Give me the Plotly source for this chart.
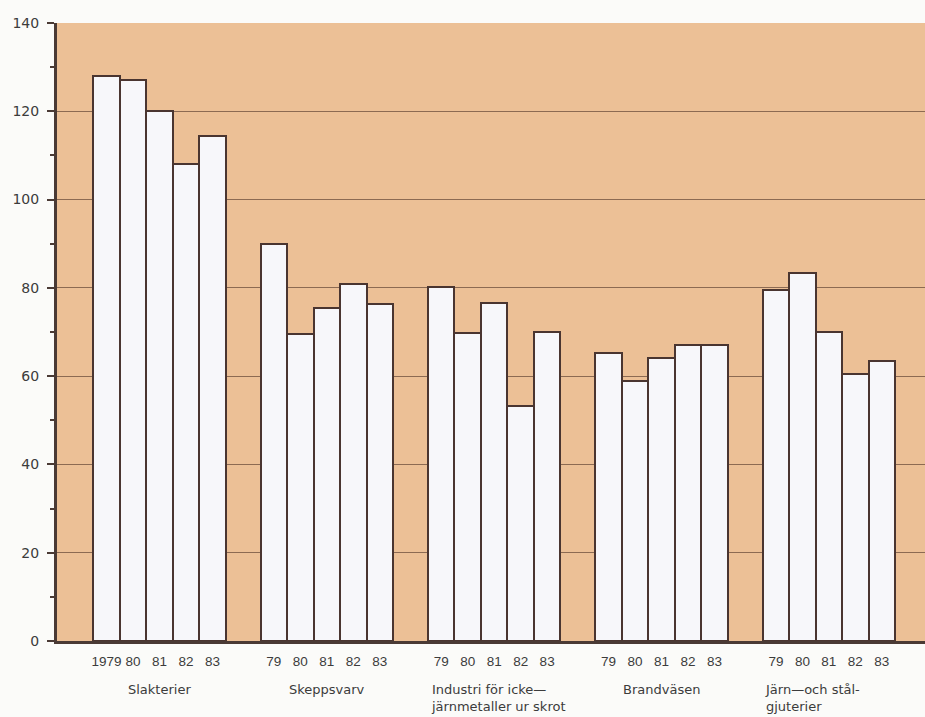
import plotly.graph_objects as go

groups = ["Slakterier", "Skeppsvarv", "Industri för icke—<br>järnmetaller ur skrot",
          "Brandväsen", "Järn—och stål-<br>gjuterier"]
years = ["79", "80", "81", "82", "83"]
first_year_label = "1979"
values = [
    [128, 127, 120, 108, 114.5],
    [90, 69.5, 75.5, 80.8, 76.3],
    [80.2, 69.7, 76.6, 53.3, 70.1],
    [65.3, 58.8, 64.0, 67.0, 67.0],
    [79.5, 83.4, 70.0, 60.5, 63.4],
]
y_ticks = [0, 20, 40, 60, 80, 100, 120, 140]

group_step = 6.32
xs, ys, ticktext = [], [], []
for g, vals in enumerate(values):
    for i, v in enumerate(vals):
        xs.append(g * group_step + i)
        ys.append(v)
        ticktext.append(first_year_label if (g == 0 and i == 0) else years[i])

fig = go.Figure()
fig.add_trace(go.Bar(
    x=xs, y=ys, width=1,
    marker=dict(color="#F7F7FA", line=dict(color="#4A3530", width=2)),
    hoverinfo="skip",
))

text_color = "#3C3C3C"
ytick_font = dict(family="DejaVu Sans, sans-serif", size=14, color=text_color)
xtick_font = dict(family="Liberation Sans, Arial, sans-serif", size=13.5, color=text_color)
label_font = dict(family="DejaVu Sans, sans-serif", size=13, color=text_color)

for g, name in enumerate(groups):
    left = g * group_step - 0.5
    center = g * group_step + 2
    multi = "<br>" in name
    fig.add_annotation(
        x=left + 0.06 if multi else center, xref="x",
        y=0, yref="paper", yanchor="top", yshift=-40,
        xanchor="left" if multi else "center", align="left",
        text=name, showarrow=False, font=label_font, borderpad=0,
    )

fig.update_layout(
    width=925, height=717,
    margin=dict(l=57, r=0, t=23, b=76),
    paper_bgcolor="#FBFBF9",
    plot_bgcolor="#ECC096",
    showlegend=False,
    bargap=0,
    xaxis=dict(
        range=[-1.87, 4 * group_step + 4 + 1.63],
        tickmode="array", tickvals=xs, ticktext=ticktext,
        tickfont=xtick_font,
        showgrid=False, zeroline=False,
        showline=True, linecolor="#4A3A35", linewidth=3,
        ticks="", ticklabelstandoff=6, fixedrange=True,
    ),
    yaxis=dict(
        range=[0, 140], tickmode="array", tickvals=y_ticks,
        tickfont=ytick_font,
        showgrid=True, gridcolor="#8C6A52", gridwidth=1,
        zeroline=False,
        showline=True, linecolor="#4A3A35", linewidth=3,
        ticks="outside", ticklen=7, tickcolor="#4A3A35", tickwidth=1.5,
        minor=dict(dtick=10, ticks="outside", ticklen=4, tickcolor="#4A3A35", showgrid=False),
        ticklabelstandoff=5,
        fixedrange=True,
    ),
)

fig.write_html("out.html", config={"displayModeBar": False},
               post_script="document.body.style.margin='0';document.body.style.overflow='hidden';")
